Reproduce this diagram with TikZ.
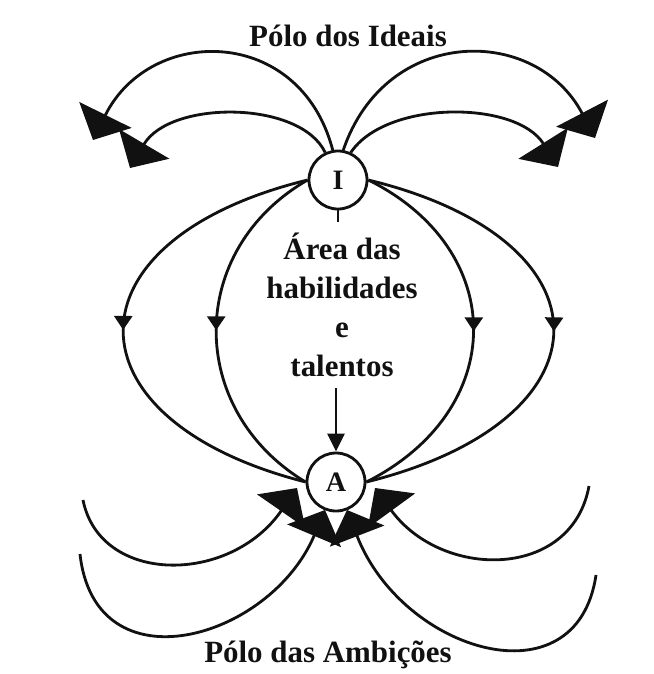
\documentclass[tikz,border=0pt]{standalone}
\usepackage{fontspec}
\setmainfont{Liberation Serif}
\usepackage{xcolor}
\usepackage{tikz}
\usetikzlibrary{
  arrows.meta,
  positioning,
  calc,
  decorations.markings
}
\definecolor{poInk}{HTML}{111111}
\tikzset{
  ponode/.style={
    draw=poInk, circle, line width=2pt, minimum size=14.5mm, inner sep=0pt,
    font=\fontsize{20}{24}\selectfont\bfseries, text=poInk
  },
  potitle/.style={font=\fontsize{22}{26}\selectfont\bfseries, text=poInk, inner sep=0pt, anchor=base},
  poarea/.style={
    font=\fontsize{22}{27.6}\selectfont\bfseries, text=poInk, align=center,
    inner xsep=0pt, inner ysep=2.75mm, anchor=north
  },
  poline/.style={draw=poInk, line width=2pt},
  bigflow/.style={poline, -{Triangle[width=14.5mm, length=7mm]}},
  midflow/.style={poline, postaction={decorate, decoration={markings,
      mark=at position 0.5 with {\arrow{Triangle[width=4.5mm, length=3.5mm]}}}}},
  axisflow/.style={poline, -{Triangle[width=4.25mm, length=4.5mm]}}
}

\begin{document}
\begin{tikzpicture}[x=0.25mm, y=0.25mm]
  \useasboundingbox (0,0) rectangle (654,-674);
  \node[ponode] (I) at (338,-180) {I};
  \node[ponode] (A) at (336,-482) {A};
  \node[potitle] (ideais) at (348,-46) {Pólo dos Ideais};
  \node[potitle] (ambicoes) at (328,-662) {Pólo das Ambições};
  \node[poarea] (area) at (342,-222) {Área das\\habilidades\\e\\talentos};

  % upper pole
  \coordinate (tipOL) at (93,-140);
  \coordinate (tipIL) at (130,-168);
  \coordinate (tipOR) at (595,-138);
  \coordinate (tipIR) at (558,-167);
  \draw[bigflow] (I.100) .. controls (300,-25) and (150,-25) .. (tipOL);
  \draw[bigflow] (I.115) .. controls (300,-100) and (170,-100) .. (tipIL);
  \draw[bigflow] (I.80) .. controls (386,-25) and (536,-25) .. (tipOR);
  \draw[bigflow] (I.65) .. controls (386,-100) and (516,-100) .. (tipIR);

  % area between the poles
  \draw[midflow] (I.west) .. controls (62,-240) and (62,-420) .. (A.west);
  \draw[midflow] (I.west) .. controls (186,-250) and (186,-410) .. (A.west);
  \draw[midflow] (I.east) .. controls (616,-240) and (616,-420) .. (A.east);
  \draw[midflow] (I.east) .. controls (509,-250) and (509,-410) .. (A.east);
  \draw[poline] (I.south) -- (I.south |- area.north);
  \draw[axisflow] (A.north |- area.south) -- (A.north);

  % lower pole
  \coordinate (endUL) at (83,-500);
  \coordinate (endLL) at (80,-554);
  \coordinate (endUR) at (589,-486);
  \coordinate (endLR) at (596,-575);
  \coordinate (tipUL) at (297,-488);
  \coordinate (tipLL) at (325,-510);
  \coordinate (tipUR) at (375,-488);
  \coordinate (tipLR) at (347,-510);
  \draw[bigflow] (endUL) .. controls (100,-585) and (230,-585) .. (tipUL);
  \draw[bigflow] (endLL) .. controls (95,-690) and (270,-640) .. (tipLL);
  \draw[bigflow] (endUR) .. controls (572,-580) and (442,-580) .. (tipUR);
  \draw[bigflow] (endLR) .. controls (577,-705) and (402,-652) .. (tipLR);
\end{tikzpicture}
\end{document}
